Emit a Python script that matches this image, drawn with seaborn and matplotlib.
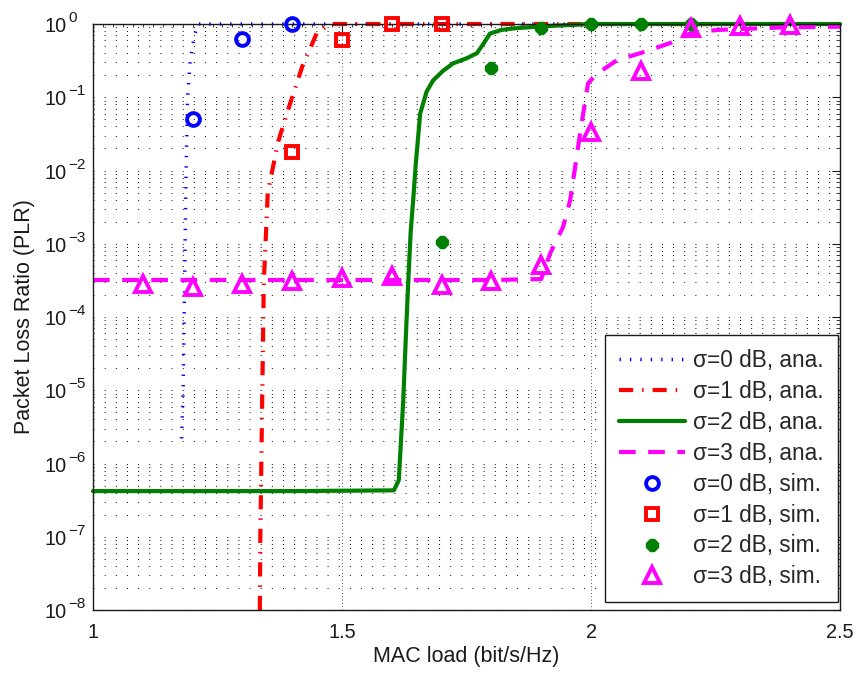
import matplotlib
matplotlib.use("Agg")
import matplotlib.pyplot as plt
import seaborn as sns
from matplotlib.ticker import FixedLocator, MultipleLocator, LogLocator, NullFormatter
from matplotlib.transforms import blended_transform_factory, offset_copy

# ---- analytic curves ----
ana0_x = [1.178, 1.181, 1.183, 1.185, 1.187, 1.190, 1.195, 1.202, 1.210, 1.30, 1.40, 2.50]
ana0_y = [2.2e-6, 1e-5, 1e-4, 1e-3, 1e-2, 0.1, 0.3, 0.6, 1.0, 1.0, 1.0, 1.0]

ana1_x = [1.335, 1.336, 1.338, 1.343, 1.351, 1.372, 1.396, 1.420, 1.450, 1.476, 1.60, 2.50]
ana1_y = [1e-8, 1e-7, 1e-6, 3e-4, 5e-3, 0.025, 0.083, 0.26, 0.77, 1.0, 1.0, 1.0]

ana2_x = [1.00, 1.40, 1.604, 1.614, 1.623, 1.628, 1.633, 1.638, 1.643, 1.648, 1.657, 1.670, 1.683,
          1.703, 1.723, 1.750, 1.771, 1.785, 1.797, 1.820, 1.843, 1.90, 2.00, 2.50]
ana2_y = [4.2e-7, 4.2e-7, 4.3e-7, 5.9e-7, 7.3e-6, 5e-5, 3e-4, 1.5e-3, 4e-3, 1.2e-2, 0.06, 0.12, 0.17,
          0.23, 0.29, 0.34, 0.40, 0.55, 0.74, 0.83, 0.87, 0.93, 1.0, 1.0]

ana3_x = [1.00, 1.50, 1.80, 1.90, 1.918, 1.944, 1.958, 1.968, 1.978, 1.994, 2.012, 2.052, 2.104,
          2.159, 2.200, 2.253, 2.386, 2.50]
ana3_y = [3.2e-4, 3.2e-4, 3.2e-4, 3.3e-4, 7.4e-4, 1.7e-3, 3.9e-3, 1.1e-2, 3.2e-2, 0.155, 0.21, 0.32,
          0.41, 0.55, 0.75, 0.83, 0.90, 0.92]

# ---- simulation points ----
sim0_x = [1.2, 1.3, 1.4]
sim0_y = [0.05, 0.63, 1.0]

sim1_x = [1.4, 1.5, 1.6, 1.7]
sim1_y = [0.018, 0.6, 1.0, 1.0]

sim2_x = [1.7, 1.8, 1.9, 2.0, 2.1, 2.2]
sim2_y = [1.07e-3, 0.25, 0.87, 1.0, 1.0, 1.0]

sim3_x = [1.1, 1.2, 1.3, 1.4, 1.5, 1.6, 1.7, 1.8, 1.9, 2.0, 2.1, 2.2, 2.3, 2.4]
sim3_y = [2.8e-4, 2.6e-4, 2.8e-4, 3.1e-4, 3.4e-4, 3.6e-4, 2.7e-4, 3.1e-4, 5.2e-4, 0.034, 0.23, 0.87,
          0.95, 0.98]

labels_ana = ["σ=0 dB, ana.", "σ=1 dB, ana.", "σ=2 dB, ana.", "σ=3 dB, ana."]
labels_sim = ["σ=0 dB, sim.", "σ=1 dB, sim.", "σ=2 dB, sim.", "σ=3 dB, sim."]
xticks = [1, 1.5, 2, 2.5]
xticklabels = ["1", "1.5", "2", "2.5"]
ytick_exponents = [0, -1, -2, -3, -4, -5, -6, -7, -8]

sns.set_theme(style="white")
plt.rcParams["font.family"] = ["Liberation Sans", "DejaVu Sans"]

fig = plt.figure(figsize=(8.57, 6.73), dpi=100)
ax = fig.add_axes([0.1085, 0.0936, 0.8717, 0.8707])
ax.set_yscale("log")

blue = (0, 0, 1)
red = (1, 0, 0)
green = (0, 0.5, 0)
mag = (1, 0, 1)

common = dict(ax=ax, estimator=None, sort=False, clip_on=False)
sns.lineplot(x=ana0_x, y=ana0_y, color=blue, linewidth=2.5, linestyle=(0, (0.4, 2.6)),
             dash_capstyle="butt", label=labels_ana[0], **common)
sns.lineplot(x=ana1_x, y=ana1_y, color=red, linewidth=3, linestyle=(0, (3.4, 2.15, 0.35, 2.15)),
             dash_capstyle="butt", label=labels_ana[1], **common)
sns.lineplot(x=ana2_x, y=ana2_y, color=green, linewidth=3, linestyle="-",
             label=labels_ana[2], **common)
sns.lineplot(x=ana3_x, y=ana3_y, color=mag, linewidth=3, linestyle=(0, (4, 3)),
             dash_capstyle="butt", label=labels_ana[3], **common)

sns.lineplot(x=sim0_x, y=sim0_y, color=blue, linestyle="none", marker="o", markersize=9.2,
             markerfacecolor="none", markeredgecolor=blue, markeredgewidth=2.8,
             label=labels_sim[0], zorder=5, **common)
sns.lineplot(x=sim1_x, y=sim1_y, color=red, linestyle="none", marker="s", markersize=8,
             markerfacecolor="none", markeredgecolor=red, markeredgewidth=2.8,
             label=labels_sim[1], zorder=5, **common)
sns.lineplot(x=sim2_x, y=sim2_y, color=green, linestyle="none", marker="8", markersize=9,
             markerfacecolor=green, markeredgecolor=green, markeredgewidth=1,
             label=labels_sim[2], zorder=5, **common)
sns.lineplot(x=sim3_x, y=sim3_y, color=mag, linestyle="none", marker="^", markersize=11,
             markerfacecolor="none", markeredgecolor=mag, markeredgewidth=2.8,
             label=labels_sim[3], zorder=5, **common)

ax.set_xlim(1, 2.5)
ax.set_ylim(1e-8, 1)

ax.xaxis.set_major_locator(FixedLocator(xticks))
ax.set_xticklabels(xticklabels)
ax.xaxis.set_minor_locator(MultipleLocator(0.02))
ax.xaxis.set_minor_formatter(NullFormatter())
ax.yaxis.set_major_locator(FixedLocator([10.0 ** e for e in ytick_exponents]))
ax.yaxis.set_minor_locator(LogLocator(base=10, subs=range(2, 10), numticks=20))
ax.yaxis.set_major_formatter(NullFormatter())
ax.yaxis.set_minor_formatter(NullFormatter())

ax.tick_params(which="both", direction="in", top=True, right=True, colors="k", labelsize=14.3)
ax.tick_params(which="major", length=5.5, width=0.8)
ax.tick_params(which="minor", length=3, width=0.6)
ax.tick_params(axis="x", which="minor", length=2)
ax.tick_params(axis="x", which="major", pad=9)

# y tick labels drawn as "10" with a large superscript exponent (MATLAB look)
ytrans = blended_transform_factory(ax.transAxes, ax.transData)
base_tr = offset_copy(ytrans, fig=fig, x=-26, y=-8, units="dots")
exp_tr = offset_copy(ytrans, fig=fig, x=-25, y=2, units="dots")
for e in ytick_exponents:
    ax.text(0, 10.0 ** e, "10", transform=base_tr, ha="right", va="baseline",
            fontsize=14.3, color="k", clip_on=False)
    ax.text(0, 10.0 ** e, str(e).replace("-", "\u2212"), transform=exp_tr, ha="left",
            va="baseline", fontsize=11, color="k", clip_on=False)

# MATLAB-like dotted grid: horizontal lines (major+minor), vertical only at major ticks
ax.yaxis.grid(True, which="both", color="k", linestyle=(0, (1, 9.7)), linewidth=0.75)
ax.xaxis.grid(True, which="major", color="k", linestyle=(0, (1, 3)), linewidth=0.6)
ax.xaxis.grid(False, which="minor")
for s in ax.spines.values():
    s.set_color("k")
    s.set_linewidth(1.0)

ax.set_xlabel("MAC load (bit/s/Hz)", fontsize=15.5, color="k")
ax.set_ylabel("Packet Loss Ratio (PLR)", fontsize=15.5, color="k")
ax.xaxis.set_label_coords(0.5, -0.062)
ax.yaxis.set_label_coords(-0.078, 0.5)

handles, labels = ax.get_legend_handles_labels()
leg = ax.legend(handles, labels, loc="lower right", bbox_to_anchor=(0.997, 0.013),
                borderaxespad=0, fontsize=16.3, numpoints=1, handlelength=2.92,
                handletextpad=0.36, labelspacing=0.35, borderpad=0.62,
                fancybox=False, framealpha=1, edgecolor="k")
leg.get_frame().set_linewidth(1.0)

fig.savefig("out.png", dpi=100)
